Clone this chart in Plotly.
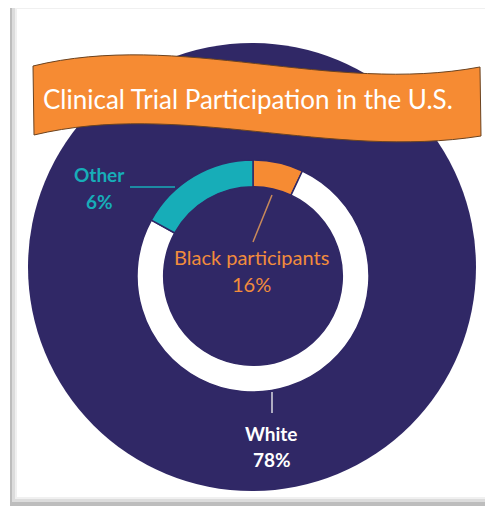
import plotly.graph_objects as go

# the page body adds an 8px margin, so the figure is drawn 8px in from the window corner
OFF = 8
W, H = 493 - OFF, 506 - OFF

# ---- data ----
categories = ["Black participants", "White", "Other"]
slice_shares = [7, 76, 17]          # drawn slice sizes, clockwise from 12 o'clock
label_pcts = ["16%", "78%", "6%"]   # percentages as printed on the chart
slice_colors = ["#f68b33", "#ffffff", "#17adb8"]
title_text = "Clinical Trial Participation in the U.S."

NAVY = "#302866"


def px(x):
    return (x - OFF) / W


def py(y):
    return 1 - (y - OFF) / H


fig = go.Figure()

# donut
cx, cy, r_out = 253, 276, 116
fig.add_trace(go.Pie(
    labels=categories,
    values=slice_shares,
    sort=False,
    direction="clockwise",
    rotation=0,
    hole=0.77,
    marker=dict(colors=slice_colors, line=dict(color=NAVY, width=1.5)),
    textinfo="none",
    hoverinfo="label",
    showlegend=False,
    domain=dict(x=[px(cx - r_out), px(cx + r_out)], y=[py(cy + r_out), py(cy - r_out)]),
))

shapes = []
# frame with bevel/shadow
shapes.append(dict(type="rect", xref="paper", yref="paper", layer="below",
                   x0=px(10), x1=px(493), y0=py(506), y1=py(7),
                   fillcolor="#bdbdbd", line=dict(width=0)))
shapes.append(dict(type="rect", xref="paper", yref="paper", layer="below",
                   x0=px(12), x1=px(490), y0=py(502), y1=py(7.5),
                   fillcolor="#dcdcdc", line=dict(width=0)))
shapes.append(dict(type="rect", xref="paper", yref="paper", layer="below",
                   x0=px(15), x1=px(488), y0=py(499), y1=py(8),
                   fillcolor="#f0f0f0", line=dict(width=0)))
shapes.append(dict(type="rect", xref="paper", yref="paper", layer="below",
                   x0=px(17), x1=px(486), y0=py(497), y1=py(9),
                   fillcolor="#ffffff", line=dict(width=0)))
# big navy disc
bcx, bcy, br = 252, 267, 224
shapes.append(dict(type="circle", xref="paper", yref="paper", layer="below",
                   x0=px(bcx - br), x1=px(bcx + br), y0=py(bcy + br), y1=py(bcy - br),
                   fillcolor=NAVY, line=dict(width=0)))


# banner ribbon
def P(x, y):
    return f"{px(x):.5f},{py(y):.5f}"


banner = (f"M {P(33, 66)} C {P(180, 30)} {P(330, 95)} {P(480, 67)} "
          f"L {P(481, 136)} C {P(330, 160)} {P(180, 100)} {P(34, 135)} Z")
shapes.append(dict(type="path", xref="paper", yref="paper", layer="above",
                   path=banner, fillcolor="#f68b33",
                   line=dict(color="#6b4320", width=1)))

# leader lines
shapes.append(dict(type="line", xref="paper", yref="paper", layer="above",
                   x0=px(130), x1=px(175), y0=py(187), y1=py(187),
                   line=dict(color="#17adb8", width=1.5)))
shapes.append(dict(type="line", xref="paper", yref="paper", layer="above",
                   x0=px(272), x1=px(253), y0=py(195), y1=py(242),
                   line=dict(color="#c98a5a", width=1.5)))
shapes.append(dict(type="line", xref="paper", yref="paper", layer="above",
                   x0=px(272), x1=px(272), y0=py(392), y1=py(413),
                   line=dict(color="#d8d8e0", width=1.5)))

annotations = []


def ann(text, x, y, color, size, family="Lato"):
    annotations.append(dict(text=text, x=px(x), y=py(y), xref="paper", yref="paper",
                            xanchor="center", yanchor="middle", showarrow=False,
                            font=dict(family=family, size=size, color=color)))


ann(title_text, 248, 99, "#ffffff", 26)
ann(f"<b>{categories[2]}</b>", 99, 175, "#17adb8", 19)
ann(f"<b>{label_pcts[2]}</b>", 99, 202, "#17adb8", 19)
ann(categories[0], 251, 257, "#f28c3c", 20)
ann(label_pcts[0], 251, 284, "#f28c3c", 20)
ann(f"<b>{categories[1]}</b>", 271, 433, "#ffffff", 19)
ann(f"<b>{label_pcts[1]}</b>", 272, 459, "#ffffff", 19)

fig.update_layout(
    width=W, height=H,
    margin=dict(l=0, r=0, t=0, b=0),
    paper_bgcolor="#ffffff",
    plot_bgcolor="#ffffff",
    shapes=shapes,
    annotations=annotations,
)

fig.write_html("out.html")
